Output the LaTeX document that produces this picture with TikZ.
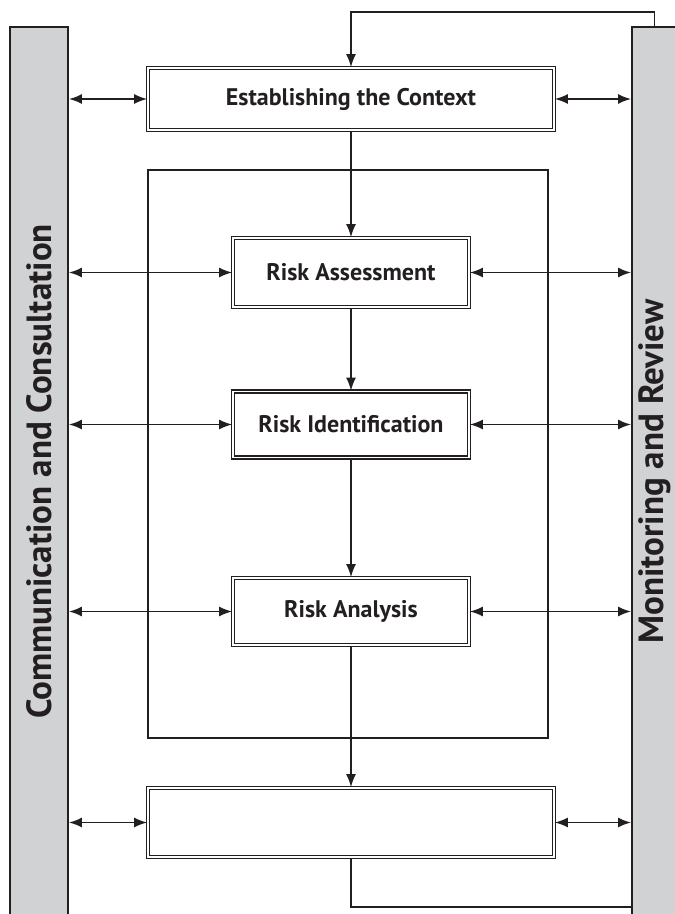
\documentclass[tikz,border=0pt]{standalone}
\usepackage{fontspec}
\setsansfont{PT Sans}
\usetikzlibrary{arrows.meta, positioning}
\definecolor{bargray}{RGB}{209,210,212}
\definecolor{ink}{RGB}{35,31,32}

\begin{document}
\begin{tikzpicture}[x=1pt, y=-1pt,
    >={Latex[length=13pt, width=10pt]},
    line width=1.8pt, draw=ink,
    stage/.style={draw, double, double distance=1.5pt, line width=1.6pt,
      fill=white, text=ink, font=\sffamily\bfseries\fontsize{24}{28}\selectfont},
    bar/.style={draw, fill=bargray, rotate=90, text=ink,
      font=\sffamily\bfseries\fontsize{35}{40}\selectfont},
    link/.style={<->}]
  \useasboundingbox (0,0) rectangle (675,914);

  % side bars
  \node[bar, minimum width=889, minimum height=58] (comm) at (39,471.5) {Communication and Consultation};
  \node[bar, minimum width=889, minimum height=45] (mon) at (654.5,471.5) {Monitoring and Review};

  % assessment frame and stages
  \node[draw, minimum width=400, minimum height=568] (frame) at (348,454) {};
  \node[stage, minimum width=406, minimum height=62] (est) at (351,99) {Establishing the Context};
  \node[stage, minimum width=236, minimum height=69] (assess) at (351,272.5) {Risk Assessment};
  \node[stage, minimum width=236, minimum height=66] (ident) at (351,424.5) {Risk Identification};
  \node[stage, minimum width=236, minimum height=67] (analysis) at (351,611.5) {Risk Analysis};
  \node[stage, minimum width=406, minimum height=69] (treat) at (351,822.5) {};

  % main flow
  \draw[->] (mon.east) -- ++(0,-14) -| (est.north);
  \draw[->] (est) -- (assess);
  \draw[->] (assess) -- (ident);
  \draw[->] (ident) -- (analysis);
  \draw[->] (analysis) -- (treat);
  \draw (treat.south) -- ++(0,49) coordinate (dip) -- (dip -| mon.north);

  % links to the side bars
  \foreach \n in {est, assess, ident, analysis, treat} {
    \draw[link] (\n.west -| comm.south) -- (\n.west);
    \draw[link] (\n.east) -- (\n.east -| mon.north);
  }
\end{tikzpicture}
\end{document}
